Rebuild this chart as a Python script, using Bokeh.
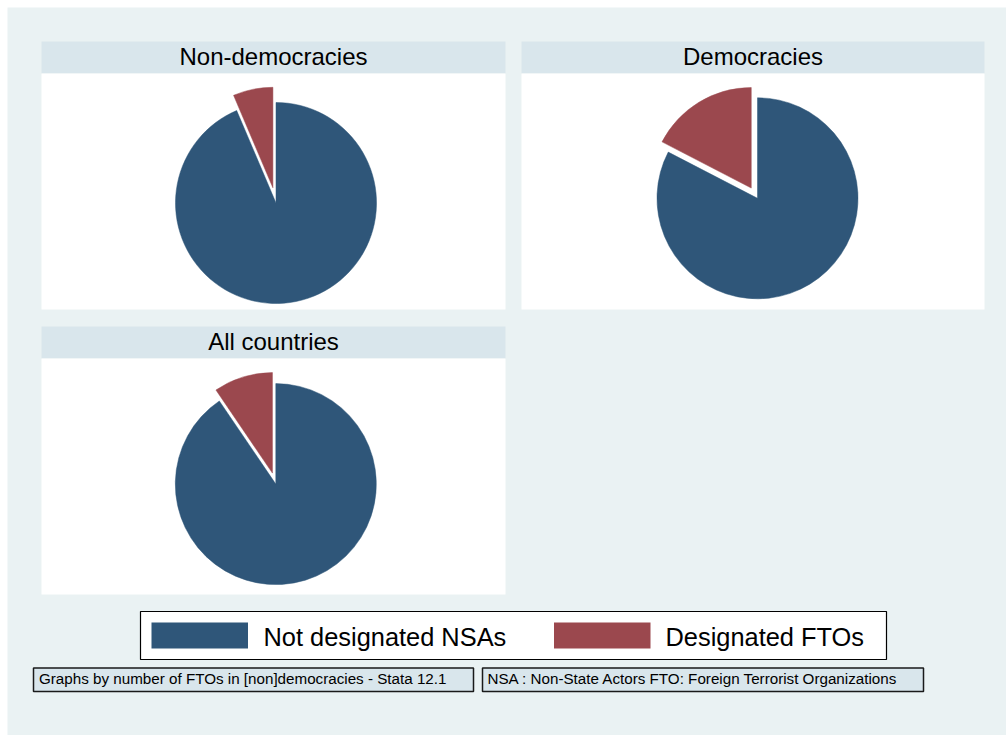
import math
from bokeh.plotting import figure
from bokeh.models import Range1d
from bokeh.embed import file_html
from bokeh.resources import INLINE
from bokeh.core.properties import value

# ---------------- data ----------------
panel_titles = ["Non-democracies", "Democracies", "All countries"]
not_designated = [93.6, 82.6, 90.5]   # % of NSAs not designated
designated = [6.4, 17.4, 9.5]         # % designated as FTOs
legend_labels = ["Not designated NSAs", "Designated FTOs"]
notes = ["Graphs by number of FTOs in [non]democracies - Stata 12.1",
         "NSA : Non-State Actors FTO: Foreign Terrorist Organizations"]

# ---------------- style / layout ----------------
BLUE = "#2F5679"
RED = "#9B484E"
BG = "#EAF2F3"
STRIP = "#D9E6EC"
FONT = value("Liberation Sans")

W, H = 1006, 735
OFF = 0


def X(px):
    return px - OFF


def Y(py):
    return H + OFF - py


# panel boxes in page pixels: left, right, strip top, strip bottom, plot bottom
panel_left = [41, 521, 41]
panel_right = [505, 984, 505]
strip_top = [41, 41, 326]
strip_bottom = [73, 73, 358]
plot_bottom = [309, 309, 594]
pie_cx = [275.5, 757.0, 275.3]
pie_cy = [202.5, 197.8, 483.6]
RADIUS = 100.5
explode = [15.5, 12.0, 11.5]

p = figure(width=W, height=H, x_range=Range1d(0, W), y_range=Range1d(0, H),
           output_backend="svg", toolbar_location=None, min_border=0)
p.axis.visible = False
p.grid.visible = False
p.outline_line_color = None
p.background_fill_color = "white"
p.border_fill_color = "white"

# graph region background
p.quad(left=[X(7)], right=[X(1006)], top=[Y(7)], bottom=[Y(735)],
       fill_color=BG, line_color=None)

# panel strips and plot areas
p.quad(left=[X(v) for v in panel_left], right=[X(v) for v in panel_right],
       top=[Y(v) for v in strip_top], bottom=[Y(v) for v in strip_bottom],
       fill_color=STRIP, line_color=None)
p.quad(left=[X(v) for v in panel_left], right=[X(v) for v in panel_right],
       top=[Y(v) for v in strip_bottom], bottom=[Y(v) for v in plot_bottom],
       fill_color="white", line_color=None)

# panel titles
p.text(x=[X((l + r) / 2) for l, r in zip(panel_left, panel_right)],
       y=[Y(t + 14.5) for t in strip_top], text=panel_titles,
       text_font=FONT, text_font_size="24px", text_align="center",
       text_baseline="middle", text_color="black")

# pies
bx, by, bs, be = [], [], [], []
rx, ry, rs, re_ = [], [], [], []
for i in range(3):
    total = not_designated[i] + designated[i]
    a0 = math.pi / 2
    a1 = a0 + 2 * math.pi * designated[i] / total
    cx, cy = X(pie_cx[i]), Y(pie_cy[i])
    bx.append(cx); by.append(cy); bs.append(a1); be.append(a0 + 2 * math.pi)
    mid = (a0 + a1) / 2
    rx.append(cx + explode[i] * math.cos(mid))
    ry.append(cy + explode[i] * math.sin(mid))
    rs.append(a0); re_.append(a1)

p.wedge(x=bx, y=by, radius=RADIUS, start_angle=bs, end_angle=be,
        fill_color=BLUE, line_color=BLUE, line_width=0.5)
p.wedge(x=rx, y=ry, radius=RADIUS, start_angle=rs, end_angle=re_,
        fill_color=RED, line_color=RED, line_width=0.5)

# legend box
p.quad(left=[X(140)], right=[X(886)], top=[Y(611)], bottom=[Y(659)],
       fill_color="white", line_color="black", line_width=1.2)
p.quad(left=[X(151), X(553.5)], right=[X(247.5), X(650)],
       top=[Y(622), Y(622)], bottom=[Y(648), Y(648)],
       fill_color=[BLUE, RED], line_color=None)
p.text(x=[X(263), X(665)], y=[Y(636), Y(636)], text=legend_labels,
       text_font=FONT, text_font_size="25.4px", text_align="left",
       text_baseline="middle", text_color="black")

# notes
p.quad(left=[X(33), X(482)], right=[X(473), X(923)],
       top=[Y(667.5), Y(667.5)], bottom=[Y(691), Y(691)],
       fill_color=STRIP, line_color="#1a1a1a", line_width=1.5)
p.text(x=[X(38.5), X(487)], y=[Y(678), Y(678)], text=notes,
       text_font=FONT, text_font_size="15.2px", text_align="left",
       text_baseline="middle", text_color="black")

open("out.html", "w").write(file_html(p, INLINE))
